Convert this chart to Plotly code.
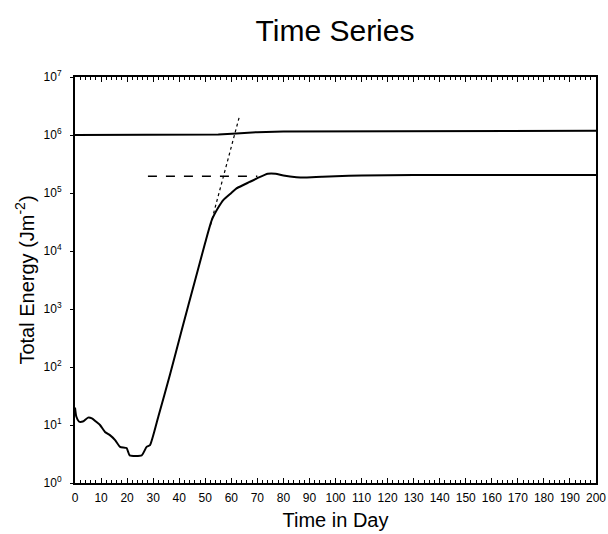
import plotly.graph_objects as go

# Lower curve (total energy of perturbation)
t_low = [0, 0.5, 1.5, 3, 5, 6.5, 8, 9.6, 11.5, 13.4, 15.4, 17.3, 19.8, 21, 25.6, 27.5, 28.8,
         32, 36.5, 41, 46, 50, 52.5, 55, 57, 60, 62, 65, 67, 70, 74, 77, 80, 85, 89, 95,
         100, 110, 130, 150, 170, 200]
e_low = [20, 14, 11.5, 11.5, 13.4, 13, 11.5, 10, 7.6, 6.7, 5.5, 4.2, 4.0, 3.0, 3.0, 4.2, 4.5,
         14, 75, 440, 3000, 1.4e4, 3.4e4, 5.6e4, 7.6e4, 1.0e5, 1.2e5, 1.4e5, 1.55e5, 1.8e5,
         2.15e5, 2.15e5, 2.0e5, 1.87e5, 1.85e5, 1.9e5, 1.95e5, 2.0e5, 2.05e5, 2.05e5, 2.05e5, 2.05e5]

# Upper curve (basic state energy)
t_up = [0, 30, 55, 62, 70, 80, 100, 150, 200]
e_up = [1.0e6, 1.0e6, 1.02e6, 1.06e6, 1.12e6, 1.15e6, 1.16e6, 1.17e6, 1.18e6]

# Saturation level (dashed)
t_sat = [28, 70]
e_sat = [1.95e5, 1.95e5]

# Exponential growth fit (dotted)
t_fit = [52, 63]
e_fit = [2.8e4, 2.0e6]

x_ticks = list(range(0, 201, 10))
y_tickvals = [1, 10, 100, 1e3, 1e4, 1e5, 1e6, 1e7]
y_ticktext = ["10<sup>0</sup>", "10<sup>1</sup>", "10<sup>2</sup>", "10<sup>3</sup>",
              "10<sup>4</sup>", "10<sup>5</sup>", "10<sup>6</sup>", "10<sup>7</sup>"]

fig = go.Figure()
fig.add_trace(go.Scatter(x=t_up, y=e_up, mode="lines", line=dict(color="black", width=2),
                         showlegend=False))
fig.add_trace(go.Scatter(x=t_low, y=e_low, mode="lines",
                         line=dict(color="black", width=2, shape="spline", smoothing=0.5),
                         showlegend=False))
fig.add_trace(go.Scatter(x=t_sat, y=e_sat, mode="lines",
                         line=dict(color="black", width=1.5, dash="dash"), showlegend=False))
fig.add_trace(go.Scatter(x=t_fit, y=e_fit, mode="lines",
                         line=dict(color="black", width=1.2, dash="dot"), showlegend=False))

font = "Liberation Sans, Arial, Helvetica, sans-serif"
fig.update_layout(
    width=608, height=534,
    margin=dict(l=75, r=12, t=77, b=51),
    paper_bgcolor="white", plot_bgcolor="white",
    font=dict(family=font, color="black"),
    title=dict(text="Time Series", x=0.551, xanchor="center", y=0.942, yanchor="middle",
               font=dict(size=30, family=font, color="black")),
    xaxis=dict(range=[0, 200], tickvals=x_ticks, ticks="inside", ticklen=5, tickwidth=1,
               tickcolor="black", showline=True, linecolor="black", linewidth=2, mirror="ticks",
               showgrid=False, zeroline=False, tickfont=dict(size=12, family=font),
               ticklabelstandoff=3, automargin=False,
               minor=dict(ticks="inside", ticklen=3, dtick=2, tickcolor="black"),
               title=dict(text="Time in Day", font=dict(size=20, family=font), standoff=9)),
    yaxis=dict(type="log", range=[0, 7], tickvals=y_tickvals, ticktext=y_ticktext,
               ticks="outside", ticklen=3, tickcolor="black", showline=True, linecolor="black",
               linewidth=2, mirror=True, showgrid=False, zeroline=False,
               tickfont=dict(size=12, family=font), ticklabelstandoff=6, automargin=False,
               title=dict(text="Total Energy (Jm<sup>-2</sup>)", font=dict(size=20, family=font),
                          standoff=4)),
)

fig.write_html("out.html")
